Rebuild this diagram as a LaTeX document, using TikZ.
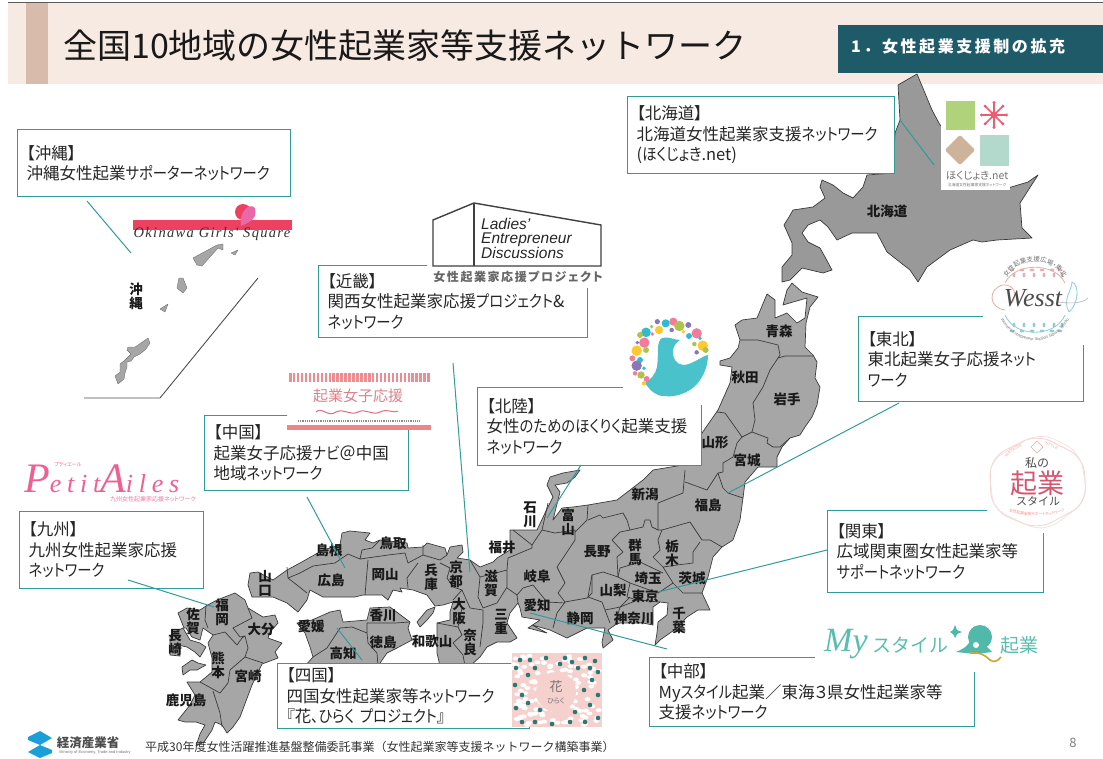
\documentclass[tikz,border=0pt]{standalone}
\usepackage{fontspec}
\setmainfont[RawFeature=+palt]{Noto Sans CJK JP}
\newfontfamily\lat{Liberation Sans}
\newfontfamily\sef{Liberation Serif}
\newfontfamily\jpfull{Noto Sans CJK JP}
\newfontfamily\kanaf[FakeStretch=0.87,RawFeature=+palt]{Noto Sans CJK JP}
\newcommand\kn[1]{{\kanaf #1}}
\usetikzlibrary{decorations.text}
\definecolor{teal1}{HTML}{2F9C9A}
\definecolor{band}{HTML}{F7EAE2}
\definecolor{stripe}{HTML}{D8BBAA}
\definecolor{tabc}{HTML}{1F5A69}
\definecolor{mapf}{HTML}{A6A6A6}
\definecolor{hokf}{HTML}{999999}
\definecolor{mapl}{HTML}{3A3A3A}
\definecolor{swan}{HTML}{4AC2CB}
\definecolor{dpink}{HTML}{F27C9A}
\definecolor{dteal}{HTML}{2FBCD0}
\definecolor{dpurp}{HTML}{8B76B8}
\definecolor{doliv}{HTML}{AFC24B}
\definecolor{dyel}{HTML}{FFC82C}
\definecolor{okired}{HTML}{EE4060}
\definecolor{okipink}{HTML}{E868A8}
\definecolor{hgreen}{HTML}{AFD27B}
\definecolor{hred}{HTML}{EE5C72}
\definecolor{htan}{HTML}{CDB39A}
\definecolor{hmint}{HTML}{B2D9CB}
\definecolor{chupink}{HTML}{EE8C91}
\definecolor{chutext}{HTML}{DC828C}
\definecolor{chuline}{HTML}{DC6E7D}
\definecolor{chubar}{HTML}{EE858B}
\definecolor{pet1}{HTML}{EE6092}
\definecolor{pet2}{HTML}{EE78A0}
\definecolor{hanabg}{HTML}{F6D0CD}
\definecolor{hanadot}{HTML}{287873}
\definecolor{wpink}{HTML}{E6AFAF}
\definecolor{wblue}{HTML}{8CCDD7}
\definecolor{wpink2}{HTML}{F5D2D2}
\definecolor{wpink3}{HTML}{F5DCDC}
\definecolor{kired}{HTML}{D6566F}
\definecolor{myteal}{HTML}{5ABEAF}
\definecolor{mydark}{HTML}{50B9AA}
\definecolor{mygold}{HTML}{CDA537}
\definecolor{metib}{HTML}{1B9FD8}
\tikzset{
 cbox/.style={draw=teal1,line width=1.2pt,fill=white,anchor=north west,inner xsep=9pt,inner ysep=0pt,align=left,
   font=\fontsize{16.5}{20.5}\selectfont,text=black!85},
 pref/.style={font=\bfseries\fontsize{13.5}{14}\selectfont,text=black!90,inner sep=0pt,align=center},
 land/.style={fill=mapf,draw=mapl,line width=0.7pt,line join=round},
 inner/.style={draw=mapl,line width=0.7pt,line join=round},
 leader/.style={draw=teal1,line width=1pt},
 mask/.style={fill=white,draw=none},
 plain/.style={inner sep=0pt},
}
\begin{document}
\begin{tikzpicture}[x=1pt,y=-1pt]
\useasboundingbox (0,0) rectangle (1103,758);
% header
\fill[band] (8,3) rectangle (1103,84);
\draw[black!65,line width=0.8pt] (8,2.5) -- (1103,2.5);
\fill[stripe] (26,3) rectangle (48,84);
\node[plain,anchor=west,font=\jpfull\fontsize{34}{36}\selectfont,text=black!90] (title) at (63,46) {全国10地域の女性起業家等支援ネットワーク};
% map: Hokkaido
\filldraw[land,fill=hokf] (917,74)--(898,85)--(900,120)--(895,133)--(893,173)--(867,175)--(863,187)--(853,198)--(843,193)--(833,185)--(822,180)--(820,187)--(825,198)--(813,207)--(793,210)--(789,217)--(784,225)--(792,243)--(792,255)--(782,267)--(782,282)--(790,280)--(802,268)--(823,273)--(832,270)--(825,257)--(820,248)--(808,242)--(802,233)--(808,225)--(820,220)--(828,227)--(837,240)--(852,233)--(877,233)--(887,252)--(910,270)--(918,282)--(927,267)--(950,250)--(973,240)--(982,242)--(997,240)--(1032,238)--(1022,228)--(1020,203)--(1038,175)--(1028,182)--(1008,188)--(975,150)--(940,125)--(932,110)--cycle;
% map: Honshu
\filldraw[land] (248,585)--(250,573)--(258,572)--(273,580)--(287,570)--(300,563)--(323,550)--(340,545)--(342,533)--(350,531)--(370,533)--(365,540)--(373,543)--(380,540)--(407,543)--(408,548)--(423,547)--(427,543)--(445,548)--(447,555)--(450,547)--(462,545)--(463,552)--(457,558)--(470,560)--(480,567)--(493,562)--(497,558)--(510,550)--(510,530)--(537,530)--(545,513)--(553,497)--(547,485)--(550,477)--(563,473)--(580,470)--(575,477)--(567,483)--(555,485)--(560,492)--(558,500)--(553,520)--(562,508)--(573,507)--(588,505)--(617,500)--(643,480)--(653,470)--(683,465)--(702,433)--(718,410)--(730,383)--(732,367)--(720,365)--(720,361)--(730,358)--(738,348)--(740,340)--(735,325)--(742,320)--(757,318)--(767,294)--(775,300)--(775,318)--(787,313)--(797,323)--(805,318)--(807,298)--(793,302)--(783,305)--(787,290)--(792,283)--(802,292)--(818,297)--(810,307)--(806,323)--(805,347)--(813,355)--(817,362)--(815,378)--(820,387)--(817,405)--(812,417)--(805,427)--(800,435)--(790,438)--(782,447)--(777,457)--(777,467)--(758,467)--(745,482)--(743,498)--(740,520)--(733,540)--(722,547)--(713,557)--(708,577)--(702,593)--(710,610)--(698,610)--(687,617)--(677,628)--(660,640)--(655,645)--(657,633)--(658,622)--(667,615)--(668,603)--(660,602)--(653,607)--(653,625)--(643,623)--(620,623)--(615,625)--(608,630)--(613,640)--(603,648)--(602,642)--(605,628)--(587,628)--(567,638)--(550,630)--(532,625)--(547,633)--(528,628)--(540,620)--(522,617)--(520,608)--(518,603)--(510,613)--(507,623)--(517,638)--(510,642)--(497,642)--(487,647)--(480,657)--(470,666)--(440,666)--(437,653)--(437,623)--(450,620)--(450,612)--(453,602)--(443,605)--(435,606)--(427,595)--(413,590)--(400,588)--(402,592)--(393,590)--(388,600)--(382,595)--(363,595)--(355,597)--(335,597)--(323,597)--(310,590)--(307,600)--(298,612)--(287,603)--(273,597)--(252,597)--cycle;
% Honshu internal borders
\draw[inner] (287,567)--(288,578)--(297,585)--(307,593);
\draw[inner] (288,578)--(300,573)--(313,566)--(335,563)--(348,554)--(360,559)--(362,550)--(372,548)--(380,540);
\draw[inner] (360,559)--(388,555)--(405,553)--(408,563)--(423,555)--(423,545);
\draw[inner] (368,560)--(365,595);
\draw[inner] (418,563)--(407,578)--(408,588);
\draw[inner] (423,555)--(440,560)--(447,555);
\draw[inner] (440,563)--(450,568)--(447,578)--(453,587)--(462,590)--(453,600);
\draw[inner] (462,590)--(470,608)--(483,610);
\draw[inner] (470,560)--(480,577)--(478,597)--(483,608);
\draw[inner] (483,610)--(483,623)--(480,647);
\draw[inner] (462,608)--(458,627)--(437,623);
\draw[inner] (458,627)--(462,635)--(453,643)--(463,655)--(465,666);
\draw[inner] (480,577)--(507,570)--(508,558)--(532,548)--(532,545)--(513,530);
\draw[inner] (507,570)--(507,587)--(497,603)--(483,608);
\draw[inner] (507,588)--(517,595)--(518,603);
\draw[inner] (517,595)--(523,588)--(533,585)--(547,602)--(565,603);
\draw[inner] (532,545)--(542,530)--(548,503);
\draw[inner] (542,530)--(555,533)--(575,530)--(575,540)--(557,567)--(565,583)--(558,593)--(565,602)--(557,613)--(553,628);
\draw[inner] (575,532)--(587,520)--(588,505);
\draw[inner] (565,602)--(587,598)--(592,593)--(592,575)--(603,572)--(618,577);
\draw[inner] (618,577)--(617,557)--(623,552)--(612,540)--(620,532)--(630,530)--(627,520)--(623,513)--(603,518)--(600,515)--(588,520);
\draw[inner] (630,530)--(643,527)--(645,520)--(650,520)--(652,527)--(658,530)--(658,503)--(683,493)--(685,470);
\draw[inner] (685,482)--(707,490)--(718,473)--(723,488)--(728,493)--(743,498);
\draw[inner] (718,473)--(723,472)--(723,463)--(733,457)--(737,443)--(742,437)--(735,427)--(725,413)--(717,412);
\draw[inner] (742,437)--(752,432)--(768,438)--(767,443)--(773,447)--(780,447)--(790,438);
\draw[inner] (752,432)--(755,420)--(753,403)--(763,387)--(770,370)--(778,358)--(785,356)--(813,356);
\draw[inner] (740,340)--(758,340)--(778,345)--(780,355)--(778,358);
\draw[inner] (658,530)--(662,530)--(690,522)--(702,540)--(710,540)--(722,547);
\draw[inner] (662,530)--(658,540)--(660,550)--(653,557)--(663,567);
\draw[inner] (700,542)--(693,552)--(693,563)--(677,565)--(663,567)--(673,583)--(683,593)--(702,593);
\draw[inner] (618,577)--(620,568)--(640,562)--(663,573);
\draw[inner] (618,577)--(630,583)--(658,593)--(673,583);
\draw[inner] (630,583)--(627,597)--(637,600)--(660,602);
\draw[inner] (592,575)--(588,597)--(602,602)--(605,610)--(620,607)--(630,597);
\draw[inner] (620,607)--(615,625);
\draw[inner] (620,607)--(643,598);
\draw[inner] (605,610)--(610,623);
% Shikoku
\filldraw[land] (297,623)--(312,620)--(330,612)--(340,610)--(343,622)--(367,620)--(370,608)--(390,607)--(410,622)--(408,628)--(412,640)--(397,648)--(387,653)--(378,666)--(305,666)--(313,657)--(310,647)--(305,633)--cycle;
\draw[inner] (313,657)--(327,648)--(340,628)--(352,627)--(367,633)--(368,643)--(377,653)--(378,666);
\draw[inner] (367,633)--(367,623)--(395,623)--(410,622);
\filldraw[land] (417,622)--(427,610)--(435,607)--(433,613)--(427,620)--(420,627)--cycle;
% Kyushu
\filldraw[land] (217,600)--(235,593)--(245,600)--(248,608)--(263,617)--(275,615)--(278,623)--(270,632)--(268,638)--(282,643)--(275,652)--(278,658)--(262,664)--(252,685)--(240,717)--(233,727)--(227,733)--(222,725)--(215,722)--(212,730)--(204,742)--(196,746)--(200,734)--(205,725)--(196,722)--(185,722)--(178,720)--(190,705)--(195,695)--(187,682)--(200,682)--(212,672)--(212,658)--(208,643)--(213,635)--(203,628)--(200,640)--(192,637)--(186,628)--(184,628)--(178,613)--(187,608)--(200,610)--(206,606)--cycle;
\filldraw[land] (183,628)--(175,632)--(170,637)--(170,655)--(180,656)--(178,645)--(187,647)--(195,652)--(200,657)--(206,647)--(200,643)--(190,640)--cycle;
\filldraw[land] (182,667)--(192,660)--(198,663)--(206,665)--(197,670)--(190,670)--(183,675)--cycle;
\draw[inner] (206,606)--(205,620)--(208,628);
\draw[inner] (213,635)--(225,632)--(237,645)--(242,638)--(245,636);
\draw[inner] (248,608)--(252,618)--(233,628)--(240,637)--(245,636)--(248,648)--(245,657)--(263,663);
\draw[inner] (245,657)--(230,670)--(228,683)--(220,693)--(200,682);
\draw[inner] (213,691)--(220,713)--(222,727);
% Okinawa
\filldraw[land,draw=black!55,line width=0.4pt] (148,338)--(150,343)--(146,349)--(140,354)--(134,357)--(131,361)--(127,362)--(127,367)--(125,373)--(124,379)--(118,384)--(115,376)--(120,372)--(120,364)--(125,360)--(131,354)--(127,350)--(128,347)--(135,347)--(141,343)--cycle;
\filldraw[land,draw=black!55,line width=0.4pt] (160,309)--(168,304)--(165,312)--cycle;
\filldraw[land,draw=black!55,line width=0.4pt] (179,278)--(183,278)--(187,288)--(183,293)--(177,288)--cycle;
\filldraw[land,draw=black!55,line width=0.4pt] (193,258)--(217,245)--(223,244)--(223,250)--(218,248)--(202,266)--(197,265)--cycle;
\filldraw[land,draw=black!55,line width=0.4pt] (231,253)--(238,250)--(235,255)--cycle;
\draw[black!70,line width=0.9pt] (84,398)--(160,398)--(258,278);
% prefecture labels
\node[pref] (hokkaido) at (887,211) {北海道};
\node[pref] (aomori) at (779,331) {青森};
\node[pref] (akita) at (745,377) {秋田};
\node[pref] (iwate) at (787,399) {岩手};
\node[pref] (yamagata) at (715,443) {山形};
\node[pref] (miyagi) at (747,460) {宮城};
\node[pref] (niigata) at (645,494) {新潟};
\node[pref] (fukushima) at (708,505) {福島};
\node[pref] (nagano) at (597,552) {長野};
\node[pref] (gunma) at (635,552) {群\\馬};
\node[pref] (tochigi) at (672,553) {栃\\木};
\node[pref] (ibaraki) at (692,578) {茨城};
\node[pref] (saitama) at (648,578) {埼玉};
\node[pref] (yamanashi) at (613,590) {山梨};
\node[pref] (tokyo) at (645,596) {東京};
\node[pref] (chiba) at (679,620) {千\\葉};
\node[pref] (kanagawa) at (634,618) {神奈川};
\node[pref] (shizuoka) at (580,618) {静岡};
\node[pref] (aichi) at (537,605) {愛知};
\node[pref] (gifu) at (537,576) {岐阜};
\node[pref] (toyama) at (568,522) {富\\山};
\node[pref] (ishikawa) at (530,515) {石\\川};
\node[pref] (fukui) at (502,547) {福井};
\node[pref] (shiga) at (491,583) {滋\\賀};
\node[pref] (mie) at (501,622) {三\\重};
\node[pref] (nara) at (470,642) {奈\\良};
\node[pref] (osaka) at (459,611) {大\\阪};
\node[pref] (kyoto) at (456,574) {京\\都};
\node[pref] (wakayama) at (432,641) {和歌山};
\node[pref] (hyogo) at (431,577) {兵\\庫};
\node[pref] (okayama) at (385,575) {岡山};
\node[pref] (tottori) at (393,543) {鳥取};
\node[pref] (hiroshima) at (331,580) {広島};
\node[pref] (shimane) at (329,550) {島根};
\node[pref] (yamaguchi) at (265,583) {山\\口};
\node[pref] (ehime) at (311,626) {愛媛};
\node[pref] (kagawa) at (383,615) {香川};
\node[pref] (tokushima) at (383,642) {徳島};
\node[pref] (kochi) at (343,653) {高知};
\node[pref] (fukuoka) at (222,612) {福\\岡};
\node[pref] (saga) at (193,621) {佐\\賀};
\node[pref] (nagasaki) at (175,643) {長\\崎};
\node[pref] (oita) at (261,629) {大分};
\node[pref] (kumamoto) at (218,665) {熊\\本};
\node[pref] (miyazaki) at (248,676) {宮崎};
\node[pref] (kagoshima) at (186,700) {鹿児島};
\node[pref] (okinawa) at (136,296) {沖\\縄};
% callout boxes
\node[cbox,text width=255pt,minimum height=67pt] (bOki) at (17,129) {【沖縄】\\沖縄女性起業\kn{サポーターネットワーク}};
\node[cbox,text width=249pt,minimum height=77pt] (bHok) at (627,96) {【北海道】\\北海道女性起業家支援\kn{ネットワーク}\\(\kn{ほくじょき}.net)};
\node[cbox,text width=251pt,minimum height=72pt] (bKin) at (318,265) {【近畿】\\関西女性起業家応援\kn{プロジェクト}\&\\\kn{ネットワーク}};
\node[cbox,text width=207pt,minimum height=85pt] (bToh) at (858,316) {【東北】\\東北起業女子応援\kn{ネット}\\\kn{ワーク}};
\node[cbox,text width=206pt,minimum height=78pt] (bHkr) at (477,387) {【北陸】\\女性\kn{のための}\kn{ほくりく}起業支援\\\kn{ネットワーク}};
\node[cbox,text width=186pt,minimum height=75pt] (bChu) at (204,415) {【中国】\\起業女子応援\kn{ナビ}＠中国\\地域\kn{ネットワーク}};
\node[cbox,text width=166pt,minimum height=77pt] (bKyu) at (19,511) {【九州】\\九州女性起業家応援\\\kn{ネットワーク}};
\node[cbox,text width=234pt,minimum height=65pt] (bShi) at (277,663) {【四国】\\四国女性起業家等\kn{ネットワーク}\\『花\kn{、ひらく プロジェクト}』};
\node[cbox,text width=198pt,minimum height=82pt] (bKan) at (827,510) {【関東】\\広域関東圏女性起業家等\\\kn{サポートネットワーク}};
\node[cbox,text width=307pt,minimum height=69pt] (bChb) at (649,657) {【中部】\\My\kn{スタイル}起業／東海３県女性起業家等\\支援\kn{ネットワーク}};
% leaders
\coordinate (l1a) at (87,201); \coordinate (l1b) at (131,253);
\draw[leader] (l1a)--(l1b);
\coordinate (l2a) at (900,120); \coordinate (l2b) at (934,165);
\draw[leader] (l2a)--(l2b);
\coordinate (l3a) at (453,363); \coordinate (l3b) at (470,572);
\draw[leader] (l3a)--(l3b);
\coordinate (l4a) at (899,403); \coordinate (l4b) at (728,493);
\draw[leader] (l4a)--(l4b);
\coordinate (l5a) at (581,465); \coordinate (l5b) at (547,518);
\draw[leader] (l5a)--(l5b);
\coordinate (l6a) at (307,497); \coordinate (l6b) at (345,568);
\draw[leader] (l6a)--(l6b);
\coordinate (l7a) at (128,580); \coordinate (l7b) at (214,607);
\draw[leader] (l7a)--(l7b);
\coordinate (l8a) at (362,660); \coordinate (l8b) at (337,628);
\draw[leader] (l8a)--(l8b);
\coordinate (l9a) at (827,550); \coordinate (l9b) at (658,592);
\draw[leader] (l9a)--(l9b);
\coordinate (l10a) at (667,649); \coordinate (l10b) at (530,613);
\draw[leader] (l10a)--(l10b);
% Okinawa logo
\fill[mask] (133,220) rectangle (292,241);
\fill[okired] (133,220) rectangle (292,230);
\fill[okired] (243,212) circle (8);
\fill[okipink] (248,207) .. controls (256,204) and (256,210) .. (255,216) .. controls (252,222) and (245,224) .. (241,226) .. controls (240,220) and (241,212) .. (248,207) -- cycle;
\node[plain,font=\sef\itshape\fontsize{14.5}{14}\selectfont,text=black!80] (okilogo) at (212,234) {\addfontfeature{LetterSpace=9}Okinawa Girls' Square};
% Hokkaido logo
\fill[mask] (941,98) rectangle (1010,190);
\fill[hgreen] (946,101) rectangle (975,130);
\foreach \a in {0,45,...,315} {
  \draw[hred,line width=1.5pt] (994,115) -- ++(\a:12.5);
  \fill[hred] (994,115) ++(\a:12.5) circle (1.7);
}
\fill[hred] (994,115) circle (3.5);
\filldraw[htan,line join=round,line width=3pt] (960,137)--(973,150)--(960,163)--(947,150)--cycle;
\fill[hmint] (980,135) rectangle (1009,166);
\node[plain,font=\fontsize{10.5}{11}\selectfont,text=black!55] (hoklogo) at (977,176) {ほくじょき.net};
\node[plain,font=\fontsize{3.8}{4}\selectfont,text=black!55] (hoklogo2) at (977,185) {北海道女性起業家支援ネットワーク};
% Ladies logo
\fill[mask] (427,200) rectangle (605,288);
\draw[black!75,line width=1.4pt,line join=miter] (433,266)--(433,220)--(474,203)--(601,225)--(601,266)--cycle;
\draw[black!75,line width=1.4pt] (474,203)--(474,266);
\node[plain,anchor=north west,align=left,font=\lat\itshape\fontsize{15.5}{14.5}\selectfont,text=black!85] (ladies) at (481,218) {Ladies’\\Entrepreneur\\Discussions};
\node[plain,font=\bfseries\fontsize{12}{12}\selectfont,text=black!60] (ladies2) at (518,277) {\addfontfeature{LetterSpace=13}女性起業家応援プロジェクト};
% Hokuriku swan logo
\fill[mask] (623,310) rectangle (712,405);
\fill[swan] (645,383) .. controls (650,390) and (655,396) .. (664,396) .. controls (676,398) and (690,392) .. (697,384) .. controls (704,376) and (708,365) .. (708,355) .. controls (702,356) and (692,365) .. (683,365) .. controls (676,364) and (672,358) .. (673,350) .. controls (674,345) and (677,342) .. (680,340) .. controls (674,340) and (668,336) .. (662,338) .. controls (656,342) and (659,352) .. (657,367) .. controls (656,374) and (650,380) .. (645,383) -- cycle;
\foreach \a/\b/\r/\c in {460/65/11/dpink,437/70/11/dteal,412/65/7/dpurp,478/78/14/doliv,505/75/8/dpurp,378/97/13/dteal,417/90/11/dyel,395/80/5/doliv,530/100/14/dpink,507/108/8/dteal,397/102/5/dpink,360/105/8/doliv,373/128/14/dpink,352/128/5/dpurp,350/152/14/dyel,378/150/8/doliv,548/137/14/dyel,557/150/8/doliv,523/132/6/doliv,337/175/8/dpink,360/180/8/dteal,350/197/14/dpurp,372/205/5/dteal,345/220/6/dpink,363/225/10/doliv,380/237/8/dpink,372/250/6/dyel,530/157/6/dpurp,455/90/6/dpurp,490/95/5/dyel,540/115/5/dteal}
  \fill[\c] ({520+\a/3},{300+\b/3}) circle ({\r/2.7});
% Chugoku logo
\fill[mask] (287,372) rectangle (431,430);
\foreach \i in {0,1,...,35} \fill[chupink] ({289+\i*3.95},373) rectangle ({291.5+\i*3.95},382);
\node[plain,font=\fontsize{15}{15}\selectfont,text=chutext] (chulogo) at (358,396) {起業女子応援};
\draw[chuline,line width=1pt] (316,412) .. controls (322,406) and (328,418) .. (336,412) .. controls (344,408) and (350,416) .. (358,412) .. controls (366,408) and (372,416) .. (380,412) .. controls (388,408) and (394,414) .. (398,411);
\draw[black!45,line width=1.2pt,dash pattern=on 1pt off 0.8pt] (298,421)--(420,421);
\fill[chubar] (287,425) rectangle (431,430);
% Petit Ailes logo
\node[plain,anchor=west,font=\sef\itshape\fontsize{26}{32}\selectfont,text=pet1] (petit) at (24,479) {{\fontsize{42}{42}\selectfont P}\addfontfeature{LetterSpace=22}etit{\fontsize{42}{42}\selectfont A}iles};
\node[plain,font=\fontsize{5}{5}\selectfont,text=pet1] (petit2) at (68,465) {プティエール};
\node[plain,font=\fontsize{6}{6}\selectfont,text=pet2] (petit3) at (153,499) {九州女性起業家応援ネットワーク};
% Hana logo
\fill[hanabg] (512,653) rectangle (602,727);
\pgfmathsetseed{7}
\foreach \i in {1,...,130} {
  \pgfmathsetmacro{\px}{514+rnd*86}\pgfmathsetmacro{\py}{655+rnd*70}
  \fill[white] (\px,\py) ellipse (3 and 2);
}
\foreach \a/\b in {516/668,520/660,530/660,546/658,565/658,585/658,595/661,598/672,592/680,598/695,590/705,598/718,585/722,570/722,552/724,535/722,522/722,516/708,522/695,515/685,528/675,535/668,578/668,572/662,584/690,528/703,540/710,575/712,560/664,590/668}
  \fill[hanadot] (\a,\b) circle (2.3);
\fill[hanabg] (556,692) circle (20);
\node[plain,font=\fontsize{13}{13}\selectfont,text=black!55] (hana) at (556,687) {花};
\node[plain,font=\fontsize{7}{7}\selectfont,text=black!55] (hana2) at (556,701) {ひらく};
% Wesst logo
\fill[mask] (983,250) rectangle (1095,345);
\draw[wpink,line width=0.8pt] (1005,283) .. controls (1015,262) and (1055,262) .. (1065,283);
\draw[wblue,line width=0.8pt] (1005,315) .. controls (1015,338) and (1055,338) .. (1065,315);
\foreach \a in {1012,1022,1032,1042,1052,1060} {
 \fill[wpink] (\a,270) ellipse (2.4 and 1.4);
 \fill[wpink] ({\a+2},275) ellipse (1.4 and 2.4);
 \fill[wblue] (\a,331) ellipse (2.4 and 1.4);
 \fill[wblue] ({\a+2},325) ellipse (1.4 and 2.4);
}
\draw[wpink,line width=0.8pt] (1005,310) .. controls (988,308) and (988,288) .. (1003,285) .. controls (1014,284) and (1018,295) .. (1012,303);
\draw[wblue,line width=0.8pt] (1069,312) .. controls (1062,300) and (1072,290) .. (1072,282) .. controls (1080,285) and (1078,305) .. (1069,312);
\draw[black!30,line width=0.6pt] (1058,302) .. controls (1072,304) and (1083,303) .. (1088,298);
\node[plain,font=\sef\itshape\fontsize{26}{28}\selectfont,text=black!70] (wesst) at (1033,298) {Wesst};
\path[decorate,decoration={text along path,text align=center,text={|\fontsize{6.5}{6.5}\selectfont\color{black!55}|女性起業支援広場・東北}}] (1002,290) .. controls (1010,252) and (1060,252) .. (1068,290);
\path[decorate,decoration={text along path,text align=center,text={|\lat\fontsize{4}{4}\selectfont\color{black!55}|Women's Entrepreneur Support Square Tohoku}}] (998,312) .. controls (1010,350) and (1060,350) .. (1072,312);
% Watashi logo
\fill[mask] (987,425) rectangle (1090,533);
\draw[wpink2,line width=0.8pt,line join=round,rounded corners=16pt] (1037,434)--(1084,458)--(1086,504)--(1037,530)--(991,508)--(990,458)--cycle;
\draw[wpink3,line width=0.6pt,line join=round,rounded corners=16pt] (1040,432)--(1080,452)--(1088,500)--(1045,532)--(994,512)--(988,462)--cycle;
\draw[wpink,line width=0.6pt] (1037,441)--(1043,447)--(1037,453)--(1031,447)--cycle;
\node[plain,font=\fontsize{12}{12}\selectfont,text=black!70] (wat1) at (1037,463) {私の};
\node[plain,font=\jpfull\fontsize{27}{27}\selectfont,text=kired] (wat2) at (1037,483) {起業};
\node[plain,font=\jpfull\fontsize{11}{11}\selectfont,text=black!70] (wat3) at (1038,501) {スタイル};
\path[decorate,decoration={text along path,text align=left,text={|\lat\fontsize{4.2}{4.2}\selectfont\color{red!35}|WATASHI}}] (1007,458) .. controls (1013,449) and (1022,446) .. (1030,445);
\path[decorate,decoration={text along path,text align=left,text={|\lat\fontsize{4.2}{4.2}\selectfont\color{red!35}|STYLE}}] (1045,445) .. controls (1053,447) and (1060,451) .. (1066,458);
\path[decorate,decoration={text along path,text align=center,text={|\fontsize{3.8}{3.8}\selectfont\color{red!45}|女性起業家等サポートネットワーク}}] (1006,509) .. controls (1015,518) and (1058,518) .. (1068,509);
% My style logo
\fill[mask] (815,625) rectangle (1046,672);
\node[plain,anchor=west,font=\sef\itshape\fontsize{34}{34}\selectfont,text=myteal] (mylogo) at (824,644) {My};
\node[plain,anchor=west,font=\jpfull\fontsize{19}{19}\selectfont,text=myteal] (mylogo2) at (872,645) {スタイル};
\fill[mydark] (980,637) circle (12);
\fill[mydark] (956,652) .. controls (965,648) and (970,645) .. (972,636) -- (985,645) -- (992,652) -- (975,654) -- cycle;
\fill[white] (976,645) circle (3);
\draw[mygold,line width=1.6pt] (970,653) .. controls (980,652) and (985,655) .. (990,660) .. controls (994,663) and (998,661) .. (1001,657);
\fill[mydark] (955,625) -- (957,630) -- (962,632) -- (957,634) -- (955,638) -- (953,634) -- (950,632) -- (953,630) -- cycle;
\node[plain,font=\jpfull\fontsize{19}{19}\selectfont,text=myteal] (mylogo3) at (1019,645) {起業};
% header tab
\node[plain,fill=tabc,minimum width=265pt,minimum height=48pt,anchor=north west] (tab) at (838,25) {};
\node[plain,anchor=west,font=\jpfull\bfseries\fontsize{16}{16}\selectfont,text=white] (tabt) at (851,47) {\addfontfeature{LetterSpace=16}1．女性起業支援制の拡充};
% footer
\fill[metib] (28,737)--(40,731)--(52,738)--(40,745)--(52,750)--(52,753)--(40,758)--(28,752)--(40,745)--(28,740)--cycle;
\node[plain,font=\bfseries\fontsize{12.5}{13}\selectfont,text=black!70] (meti) at (88,743) {経済産業省};
\node[plain,font=\lat\fontsize{4}{4}\selectfont,text=black!55] (meti2) at (95,752) {Ministry of Economy, Trade and Industry};
\node[plain,anchor=west,font=\jpfull\fontsize{12}{12}\selectfont,text=black!80] (foot) at (145,747) {平成30年度女性活躍推進基盤整備委託事業（女性起業家等支援ネットワーク構築事業）};
\node[plain,font=\fontsize{13}{13}\selectfont,text=black!50] (page) at (1073,743) {8};
\end{tikzpicture}
\end{document}
